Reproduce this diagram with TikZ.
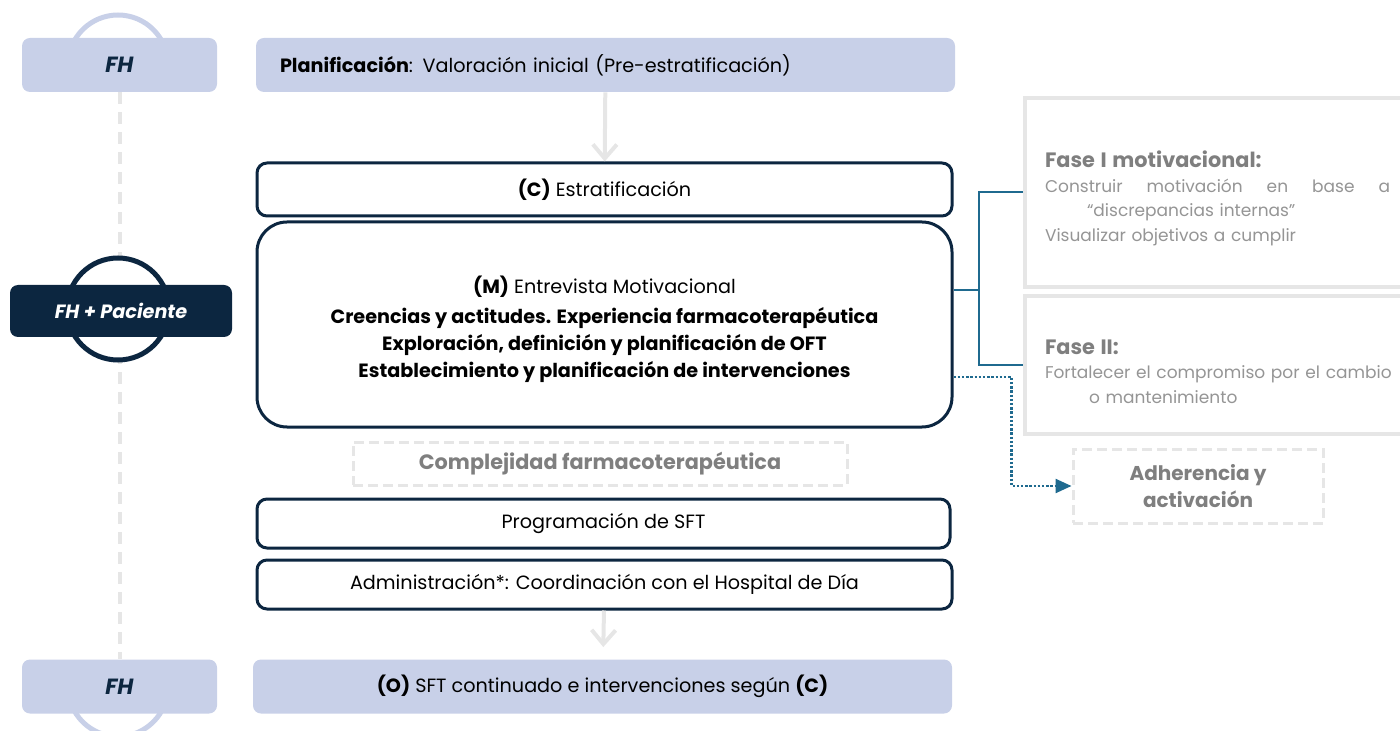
\documentclass[tikz,border=0pt]{standalone}
\usepackage{fontspec}
\setmainfont{Poppins}
\usetikzlibrary{arrows.meta,backgrounds,positioning}
\definecolor{navy}{HTML}{0C2640}
\definecolor{lavender}{HTML}{C8D0E8}
\definecolor{softgray}{HTML}{E6E6E6}
\definecolor{textgray}{HTML}{7F7F7F}
\definecolor{phasegray}{HTML}{959595}
\definecolor{linkblue}{HTML}{1F6A8F}

\begin{document}
\begin{tikzpicture}[x=0.5pt,y=-0.5pt]
\tikzstyle{role} = [rectangle, fill=lavender, rounded corners=4pt, minimum width=97.5pt,
minimum height=27pt, text=navy, font=\fontsize{11}{13}\selectfont\bfseries\itshape]
\tikzstyle{band} = [rectangle, fill=lavender, rounded corners=4pt, minimum width=349.5pt,
minimum height=27pt, text=black, font=\fontsize{9.6}{12}\selectfont]
\tikzstyle{block} = [rectangle, draw=navy, line width=1.5pt, fill=white, rounded corners=5pt,
minimum width=347.5pt, minimum height=26.5pt, font=\fontsize{9.6}{13.5}\selectfont, align=center]
\tikzstyle{ghost} = [rectangle, draw=softgray, line width=1.5pt, dash pattern=on 5pt off 2.5pt,
text=textgray, font=\fontsize{10.4}{13.5}\selectfont\bfseries, align=center]
\tikzstyle{phase} = [rectangle, draw=softgray, line width=2pt, fill=white, inner xsep=10pt,
text width=190pt, align=left, text=phasegray, font=\fontsize{8.5}{12.25}\selectfont]
\tikzstyle{ring} = [line width=2.5pt, fill=white]
\tikzstyle{flow} = [draw=softgray, line width=2pt, -{Straight Barb[length=7pt,width=12pt]}]
\tikzstyle{link} = [draw=linkblue, line width=1pt]
\tikzstyle{dotlink} = [draw=linkblue, line width=1.2pt, dash pattern=on 1.2pt off 0.9pt,
-{Triangle[length=8pt,width=7pt]}]

\useasboundingbox (0,0) rectangle (1400,731);

% left column
\node [role] (fhtop) at (119.5,65) {FH};
\node [role, fill=navy, text=white, minimum width=111pt, minimum height=26pt,
font=\fontsize{9.6}{12}\selectfont\bfseries\itshape] (fhpat) at (121,311) {FH + Paciente};
\node [role] (fhbot) at (119.5,686.5) {FH};

% main column
\node [band, text width=325.5pt, inner xsep=12pt, align=left] (plan) at (605.5,65)
{\textbf{Planificación}: Valoración inicial (Pre-estratificación)};
\node [block] (estrat) at (604.5,189.5) {\textbf{(C)} Estratificación};
\node [block, minimum height=102.5pt, rounded corners=15pt] (entrev) at (604.5,324.5)
{\rule{0pt}{14pt}\textbf{(M)} Entrevista Motivacional\\[1.5pt]
\bfseries Creencias y actitudes. Experiencia farmacoterapéutica\\
\bfseries Exploración, definición y planificación de OFT\\
\bfseries Establecimiento y planificación de intervenciones};
\node [ghost, minimum width=247pt, minimum height=21.5pt] (complej) at (600,463.5) {Complejidad farmacoterapéutica};
\node [block, minimum width=346.5pt, minimum height=24.5pt] (progr) at (603.5,523.5) {Programación de SFT};
\node [block, minimum height=24.5pt] (admin) at (604.5,584.5) {Administración*: Coordinación con el Hospital de Día};
\node [band] (segui) at (602.5,686.5) {\textbf{(O)} SFT continuado e intervenciones según \textbf{(C)}};

% right column
\node [phase, minimum height=94.5pt] (faseone) at (1235,192.5)
{{\fontsize{10.4}{13.5}\selectfont\bfseries\color{textgray}\rule{0pt}{14pt}Fase I motivacional:}\\
\leavevmode\hbox to 172.5pt{Construir\hfill motivación\hfill en\hfill base\hfill a}\\
\hspace*{21pt}“discrepancias internas”\\
Visualizar objetivos a cumplir};
\node [phase, minimum height=69pt] (fasetwo) at (1235,365)
{{\fontsize{10.4}{13.5}\selectfont\bfseries\color{textgray}\rule{0pt}{14pt}Fase II:}\\
Fortalecer el compromiso por el cambio\\
\hspace*{22pt}o mantenimiento};
\node [ghost, minimum width=125pt, minimum height=37pt, font=\fontsize{10}{13.5}\selectfont\bfseries]
(adher) at (1198,486) {Adherencia y\\activación};

% connectors
\begin{scope}[on background layer]
\draw [softgray, line width=2pt, dash pattern=on 6pt off 4pt] (fhtop) -- (fhbot);
\draw [ring, draw=lavender] ([xshift=-0.75pt]fhtop.center) ++(25pt,0) arc [start angle=0, end angle=180, radius=25pt];
\draw [ring, draw=lavender] ([xshift=-0.75pt]fhbot.center) ++(25pt,0) arc [start angle=0, end angle=-180, radius=25pt];
\draw [ring, draw=navy] ([xshift=-1.5pt,yshift=1pt]fhpat.center) circle [radius=25.5pt];
\end{scope}
\path [flow] (plan) -- (estrat);
\path [flow, shorten >=6pt] (admin) -- (segui);
\coordinate (mtop) at ([yshift=17.25pt]entrev.east);
\coordinate (mlow) at ([yshift=-26.25pt]entrev.east);
\coordinate (split) at ([xshift=12.5pt]mtop);
\path [link] (mtop) -- (split);
\path [link] (split) |- (faseone.west);
\path [link] (split) |- (fasetwo.west);
\path [dotlink] (mlow) -| ([xshift=-30pt]adher.west) -- (adher.west);

\end{tikzpicture}
\end{document}
